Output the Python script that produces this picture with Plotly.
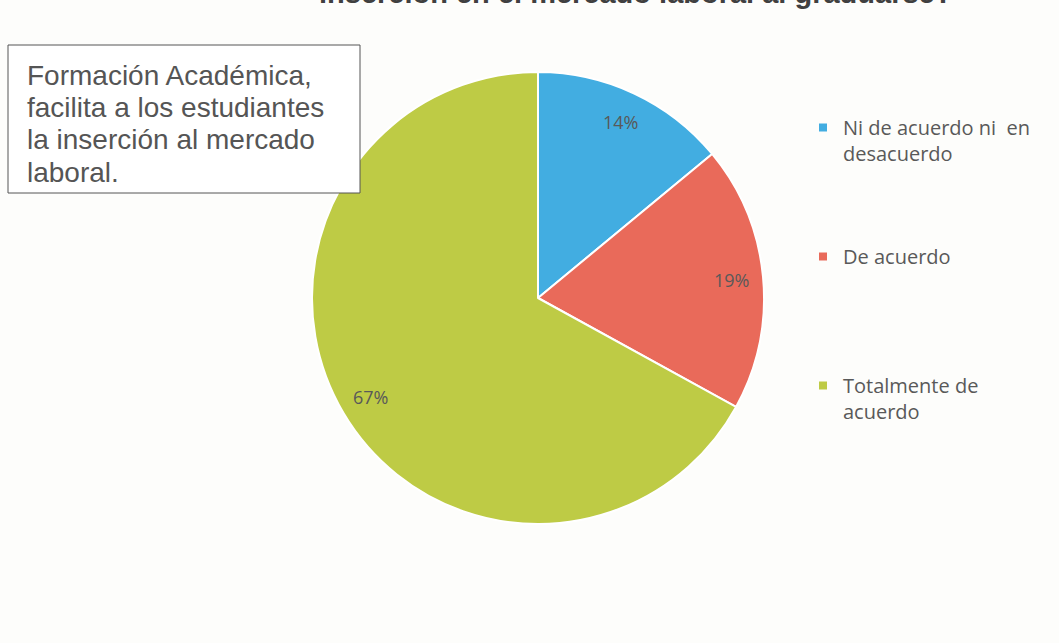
import math
import plotly.graph_objects as go

# Datos del gráfico
categorias = ["Ni de acuerdo ni  en<br>desacuerdo", "De acuerdo<br> ", "Totalmente de<br>acuerdo"]
porcentajes = [14, 19, 67]
colores = ["#42ADE1", "#E96A5A", "#BECB45"]

titulo = "inserción en el mercado laboral al graduarse?"
nota = ["Formación Académica,", "facilita a los estudiantes", "la inserción al mercado", "laboral."]

W, H = 1059, 643
cx, cy, radio = 538, 298, 226  # pie centre / radius in px

fig = go.Figure()

fig.add_trace(go.Pie(
    labels=categorias,
    values=porcentajes,
    marker=dict(colors=colores, line=dict(color="#FFFFFF", width=2)),
    sort=False,
    direction="clockwise",
    rotation=0,
    textposition="none",
    domain=dict(x=[(cx - radio) / W, (cx + radio) / W], y=[1 - (cy + radio) / H, 1 - (cy - radio) / H]),
    showlegend=False,
    hoverinfo="label+percent",
))

# percentage labels near the rim, like Excel's data labels
total = sum(porcentajes)
acum = 0
for v in porcentajes:
    ang = (acum + v / 2) / total * 2 * math.pi
    acum += v
    r = 0.86 * radio
    fig.add_annotation(
        text=f"{v}%",
        xref="paper", yref="paper",
        x=(cx + r * math.sin(ang)) / W, y=1 - (cy - r * math.cos(ang)) / H,
        xanchor="center", yanchor="middle",
        showarrow=False,
        font=dict(family="Open Sans", size=18, color="#595959"),
    )

# legend entries (separate groups so the gaps match the original)
for i, (cat, col) in enumerate(zip(categorias, colores)):
    fig.add_trace(go.Scatter(
        x=[None], y=[None],
        mode="markers",
        marker=dict(symbol="square", size=8, color=col),
        name=cat,
        legendgroup=f"g{i}",
        showlegend=True,
        hoverinfo="skip",
    ))

fig.add_annotation(
    text=titulo,
    xref="paper", yref="paper",
    x=635 / W, y=1 - 11 / H,
    xanchor="center", yanchor="bottom",
    showarrow=False,
    font=dict(family="Liberation Sans", size=29, color="#404040", weight="bold"),
)

# caja de texto
fig.add_shape(
    type="rect", xref="paper", yref="paper",
    x0=8 / W, x1=360 / W, y0=1 - 193 / H, y1=1 - 45 / H,
    line=dict(color="#555555", width=1),
    fillcolor="#FFFFFF",
    layer="above",
)
for i, linea in enumerate(nota):
    fig.add_annotation(
        text=linea,
        xref="paper", yref="paper",
        x=25 / W, y=1 - (76 + 32 * i) / H,
        xanchor="left", yanchor="middle",
        showarrow=False,
        font=dict(family="Liberation Sans", size=28, color="#555555"),
    )

fig.update_layout(
    width=W, height=H,
    margin=dict(l=0, r=0, t=0, b=0),
    paper_bgcolor="#FDFDFB",
    plot_bgcolor="rgba(0,0,0,0)",
    xaxis=dict(visible=False),
    yaxis=dict(visible=False),
    legend=dict(
        x=803 / W, y=1 - 108 / H,
        xanchor="left", yanchor="top",
        valign="top",
        tracegroupgap=74,
        font=dict(family="Open Sans", size=20, color="#595959"),
        bgcolor="rgba(0,0,0,0)",
    ),
)

fig.write_html("out.html", config={"displayModeBar": False},
               post_script="document.body.style.margin='0';")
